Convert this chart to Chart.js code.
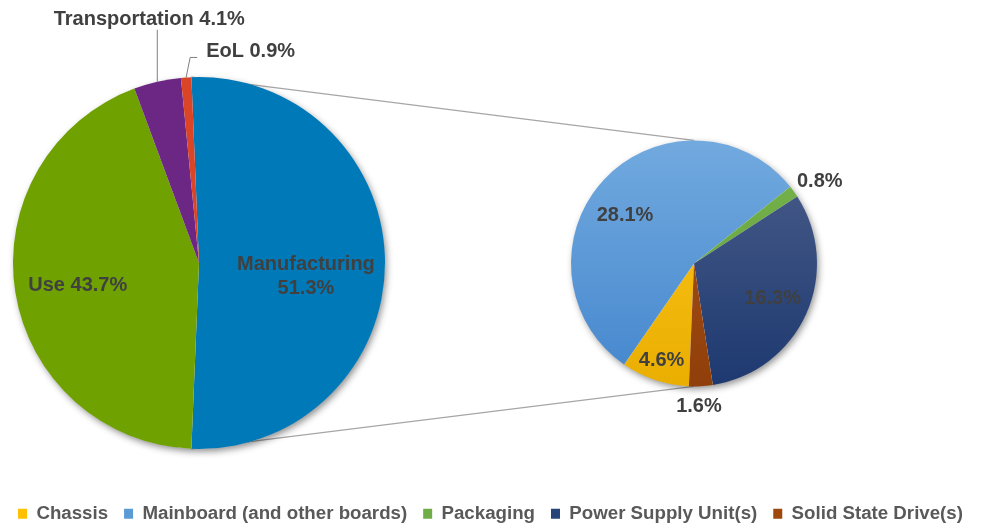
<!DOCTYPE html>
<html>
<head>
<meta charset="utf-8">
<script src="https://cdn.jsdelivr.net/npm/chart.js@4.4.1/dist/chart.umd.min.js"></script>
<style>
  html, body { margin: 0; padding: 0; background: #ffffff; overflow: hidden; width: 981px; height: 525px; }
  #wrap { position: relative; width: 981px; height: 525px; overflow: hidden; }
  canvas { position: absolute; left: 0; top: 0; }
  #cRight { z-index: 1; }
  #cLeft { z-index: 2; }
</style>
</head>
<body>
<div id="wrap">
  <canvas id="cRight" width="981" height="533"></canvas>
  <canvas id="cLeft" width="981" height="525"></canvas>
</div>
<script>
// ---------- data ----------
const mainCategories = ['Manufacturing', 'Use', 'Transportation', 'EoL'];
const mainValues = [51.3, 43.7, 4.1, 0.9];

const detailCategories = ['Chassis', 'Mainboard (and other boards)', 'Packaging', 'Power Supply Unit(s)', 'Solid State Drive(s)'];
const detailValues = [4.6, 28.1, 0.8, 16.3, 1.6];

// ---------- styles ----------
const FONT_FAMILY = '"Liberation Sans", Arial, Helvetica, sans-serif';
const mainColors = ['#0079B8', '#6FA100', '#6C2784', '#DA4427'];
const detailTop = ['#FFC71E', '#72AADF', '#76B34C', '#4B5E8A', '#A8521B'];
const detailBottom = ['#E9AE00', '#4486CD', '#62A03A', '#1D3970', '#913F0A'];
const detailLegend = ['#FFC000', '#5B9BD5', '#70AD47', '#264478', '#9E480E'];

// ---------- plugins ----------
const pieShadow = {
  id: 'pieShadow',
  beforeDatasetsDraw(chart) {
    const arc = chart.getDatasetMeta(0).data[0];
    if (!arc) return;
    const ctx = chart.ctx;
    ctx.save();
    ctx.shadowColor = 'rgba(0,0,0,0.45)';
    ctx.shadowBlur = 7;
    ctx.shadowOffsetX = 2;
    ctx.shadowOffsetY = 3;
    ctx.fillStyle = '#ffffff';
    ctx.beginPath();
    ctx.arc(arc.x, arc.y, arc.outerRadius - 0.5, 0, Math.PI * 2);
    ctx.fill();
    ctx.restore();
  }
};

const sliceLabels = {
  id: 'sliceLabels',
  afterDatasetsDraw(chart, args, opts) {
    const meta = chart.getDatasetMeta(0);
    const ds = chart.data.datasets[0];
    const ctx = chart.ctx;
    ctx.save();
    ctx.font = opts.font;
    ctx.fillStyle = opts.color;
    ctx.strokeStyle = '#7f7f7f';
    ctx.lineWidth = 1;
    meta.data.forEach((arc, i) => {
      const spec = opts.items[i];
      if (!spec) return;
      const mid = (arc.startAngle + arc.endAngle) / 2;
      const R = arc.outerRadius;
      const ax = arc.x + Math.cos(mid) * R * spec.r;
      const ay = arc.y + Math.sin(mid) * R * spec.r;
      const valueText = ds.data[i].toFixed(1) + '%';
      const name = chart.data.labels[i];
      let lines;
      if (!opts.showName) lines = [valueText];
      else if (spec.split) lines = [name, valueText];
      else lines = [name + ' ' + valueText];
      if (spec.leader) {
        ctx.beginPath();
        spec.leader.forEach((p, k) => {
          if (k === 0) ctx.moveTo(ax + p[0], ay + p[1]);
          else ctx.lineTo(ax + p[0], ay + p[1]);
        });
        ctx.stroke();
      }
      const tx = ax + (spec.dx || 0);
      const ty = ay + (spec.dy || 0);
      ctx.textAlign = spec.align || 'center';
      ctx.textBaseline = 'middle';
      lines.forEach((t, k) => {
        ctx.fillText(t, tx, ty + (k - (lines.length - 1) / 2) * opts.lineHeight);
      });
    });
    ctx.restore();
  }
};

function makeSpacer(position, size) {
  return {
    position: position, weight: 0, fullSize: false, options: {},
    isHorizontal() { return position === 'top' || position === 'bottom'; },
    update(w, h) {
      if (this.isHorizontal()) { this.width = w; this.height = size; }
      else { this.width = size; this.height = h; }
    },
    draw() {}
  };
}
const spacers = {
  id: 'spacers',
  beforeInit(chart) {
    [['top', 140], ['left', 571], ['right', 164], ['bottom', 101.5]].forEach(([p, s]) => {
      Chart.layouts.addBox(chart, makeSpacer(p, s));
    });
  }
};

let leftChart = null;
const connectors = {
  id: 'connectors',
  beforeDatasetsDraw(chart) {
    if (!leftChart) return;
    const a = leftChart.getDatasetMeta(0).data[0];
    const b = chart.getDatasetMeta(0).data[0];
    if (!a || !b) return;
    const ctx = chart.ctx;
    const p1 = [a.x + Math.cos(a.startAngle) * a.outerRadius, a.y + Math.sin(a.startAngle) * a.outerRadius];
    const p2 = [a.x + Math.cos(a.endAngle) * a.outerRadius, a.y + Math.sin(a.endAngle) * a.outerRadius];
    ctx.save();
    ctx.strokeStyle = '#A6A6A6';
    ctx.lineWidth = 1.2;
    ctx.beginPath();
    ctx.moveTo(p1[0], p1[1]);
    ctx.lineTo(b.x, b.y - b.outerRadius);
    ctx.moveTo(p2[0], p2[1]);
    ctx.lineTo(b.x, b.y + b.outerRadius);
    ctx.stroke();
    ctx.restore();
  }
};

// ---------- left (main) pie ----------
const mainTotal = mainValues.reduce((s, v) => s + v, 0);
leftChart = new Chart(document.getElementById('cLeft'), {
  type: 'pie',
  data: {
    labels: mainCategories,
    datasets: [{
      data: mainValues,
      backgroundColor: mainColors,
      borderWidth: 0,
      hoverOffset: 0
    }]
  },
  options: {
    responsive: false,
    animation: false,
    events: [],
    rotation: 90 - (mainValues[0] / mainTotal) * 180,
    layout: { padding: { left: 13, right: 596, top: 77, bottom: 76 } },
    plugins: {
      legend: { display: false },
      tooltip: { enabled: false },
      sliceLabels: {
        font: 'bold 20px ' + FONT_FAMILY,
        color: '#404040',
        lineHeight: 24,
        showName: true,
        items: [
          { r: 0.575, dy: 13, split: true },
          { r: 0.66, dy: 3 },
          { r: 1, leader: [[0, 0], [0, -52]], dx: -8, dy: -62 },
          { r: 1, leader: [[0, 0], [4, -20], [11, -20]], dx: 20, dy: -26, align: 'left' }
        ]
      }
    }
  },
  plugins: [pieShadow, sliceLabels]
});

// ---------- right (detail) pie ----------
function gradientColor(i) {
  return function (context) {
    const chart = context.chart;
    const area = chart.chartArea;
    if (!area) return detailLegend[i];
    const g = chart.ctx.createLinearGradient(0, area.top, 0, area.bottom);
    g.addColorStop(0, detailTop[i]);
    g.addColorStop(1, detailBottom[i]);
    return g;
  };
}

new Chart(document.getElementById('cRight'), {
  type: 'pie',
  data: {
    labels: detailCategories,
    datasets: [{
      data: detailValues,
      backgroundColor: (context) => gradientColor(context.dataIndex)(context),
      borderWidth: 0,
      hoverOffset: 0
    }]
  },
  options: {
    responsive: false,
    animation: false,
    events: [],
    rotation: 182.4,
    layout: { padding: 0 },
    plugins: {
      legend: {
        display: true,
        position: 'bottom',
        align: 'center',
        labels: {
          color: '#595959',
          font: { family: FONT_FAMILY, size: 18.7, weight: 'bold' },
          boxWidth: 9,
          boxHeight: 10,
          padding: 16,
          generateLabels(chart) {
            const items = Chart.overrides.doughnut.plugins.legend.labels.generateLabels(chart);
            items.forEach((it, i) => {
              it.fillStyle = detailLegend[i];
              it.strokeStyle = detailLegend[i];
              it.lineWidth = 0;
            });
            return items;
          }
        }
      },
      tooltip: { enabled: false },
      sliceLabels: {
        font: 'bold 20px ' + FONT_FAMILY,
        color: '#404040',
        lineHeight: 24,
        showName: false,
        items: [
          { r: 0.83 },
          { r: 0.7, dx: -6, dy: 11 },
          { r: 1.2, dx: 6, dy: 4 },
          { r: 0.7 },
          { r: 1.155, dx: -3, dy: 1 }
        ]
      }
    }
  },
  plugins: [spacers, connectors, pieShadow, sliceLabels]
});
</script>
</body>
</html>
